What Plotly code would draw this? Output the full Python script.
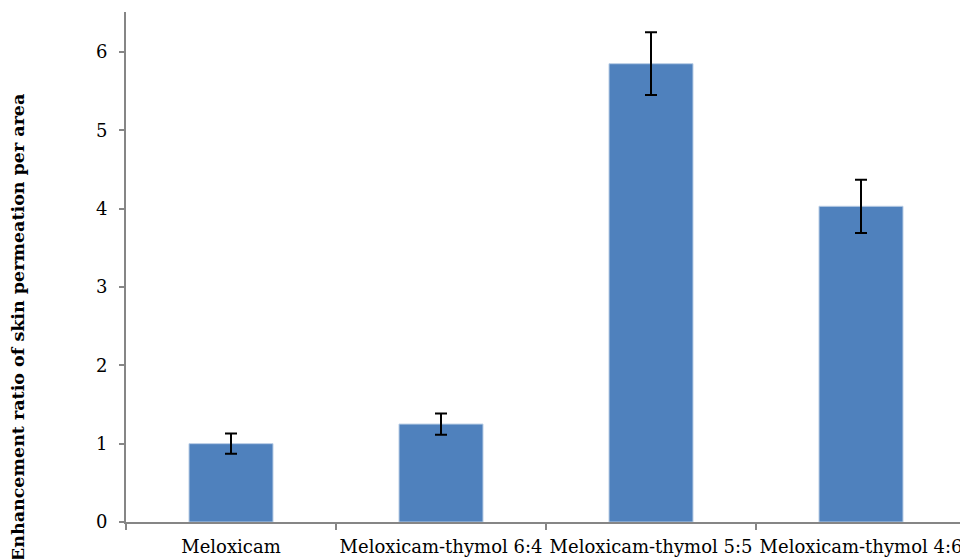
import plotly.graph_objects as go

categories = ["Meloxicam", "Meloxicam-thymol 6:4", "Meloxicam-thymol 5:5", "Meloxicam-thymol 4:6"]
values = [1.00, 1.25, 5.85, 4.03]
errors = [0.13, 0.135, 0.40, 0.34]
y_ticks = [0, 1, 2, 3, 4, 5, 6]
y_title = "Enhancement ratio of skin permeation per area"

fig = go.Figure(go.Bar(
    x=categories, y=values,
    marker=dict(color="#4F81BD", line=dict(color="#B9CDE5", width=1)),
    error_y=dict(type="data", array=errors, visible=True, color="black", thickness=2, width=6),
    width=0.4,
))

font_family = "DejaVu Serif"
fig.update_layout(
    width=960, height=551,
    margin=dict(l=118, r=2, t=4, b=37),
    plot_bgcolor="white", paper_bgcolor="white",
    showlegend=False,
    font=dict(family=font_family, size=18, color="black"),
    xaxis=dict(
        automargin=False,
        showline=True, linecolor="#868686", linewidth=2,
        ticks="outside", tickson="boundaries", ticklen=6, tickcolor="#868686", tickwidth=2,
        tickfont=dict(family=font_family, size=18, color="black"),
        tickangle=0,
        ticklabelstandoff=7,
        showgrid=False, zeroline=False,
    ),
    yaxis=dict(
        automargin=False,
        range=[0, 6.51],
        tickvals=y_ticks,
        showline=True, linecolor="#868686", linewidth=2,
        ticks="outside", ticklen=5, tickcolor="#868686", tickwidth=2,
        tickfont=dict(family=font_family, size=18, color="black"),
        ticklabelstandoff=8,
        showgrid=False, zeroline=False,
    ),
    annotations=[dict(
        text="<b>" + y_title + "</b>",
        xref="paper", yref="paper", x=-0.1286, y=0.382,
        xanchor="center", yanchor="middle", textangle=-90, showarrow=False,
        font=dict(family=font_family, size=17.5, color="black"),
    )],
)

fig.write_html("out.html")
